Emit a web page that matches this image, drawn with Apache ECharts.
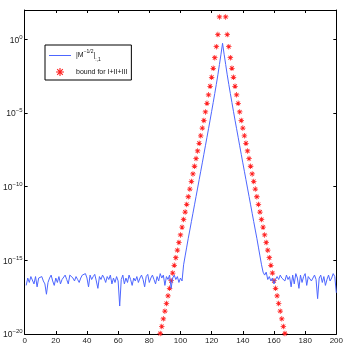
<!DOCTYPE html>
<html><head><meta charset="utf-8">
<script src="https://cdn.jsdelivr.net/npm/echarts@6/dist/echarts.min.js"></script>
<style>html,body{margin:0;padding:0;background:#fff}#c{width:346px;height:346px}</style>
</head><body><div id="c"></div>
<script>
// ---- data (exponents of 10) ----
const xMin = 0, xMax = 200, xStep = 20;
const yTickExps = [-20, -15, -10, -5, 0];
const yMinExp = -20, yMaxExp = 2;

// |M^{-1/2}|_{:,1}, x = 1..200
const blueExp = [
 -16.7,-16.2,-16.5,-16.1,-16.0,-16.6,-16.1,-16.8,-16.2,-16.3,
 -16.1,-16.4,-16.6,-17.3,-16.5,-16.2,-16.0,-16.4,-16.7,-16.2,
 -16.5,-16.1,-16.6,-16.3,-16.4,-16.0,-16.3,-16.6,-16.0,-16.1,
 -16.2,-16.4,-16.1,-16.3,-16.5,-16.2,-16.0,-16.1,-15.9,-16.2,
 -16.8,-16.0,-16.3,-16.1,-15.95,-16.4,-16.9,-16.1,-16.3,-16.0,
 -16.2,-16.5,-16.1,-16.3,-16.0,-16.6,-16.2,-16.5,-16.1,-16.4,
 -18.1,-16.3,-16.0,-16.6,-16.2,-16.5,-16.0,-16.3,-16.7,-16.2,
 -16.4,-16.1,-16.5,-16.2,-16.0,-16.3,-16.8,-16.1,-15.95,-16.5,
 -16.2,-16.0,-16.3,-16.6,-16.1,-16.4,-15.9,-16.2,-16.0,-16.7,
 -16.1,-16.3,-16.0,-16.9,-16.2,-16.0,-16.3,-16.1,-16.5,-16.2,
 -16.4,
 -15.3,-14.7,-14.1,-13.5,-12.94,-12.37,-11.8,-11.23,-10.66,-10.09,
 -9.52,-8.95,-8.38,-7.8,-7.22,-6.64,-6.06,-5.48,-4.88,-4.28,
 -3.67,-3.05,-2.4,-1.7,-1.0,-0.26,
 -1.0,-1.7,-2.4,-3.05,-3.67,-4.28,-4.88,-5.48,-6.06,-6.64,
 -7.22,-7.8,-8.38,-8.95,-9.52,-10.09,-10.66,-11.23,-11.8,-12.37,
 -12.94,-13.5,-14.1,-14.7,-15.3,-15.8,
 -16.0,-15.8,-16.3,-16.1,-16.4,-16.2,-16.6,-16.3,-16.1,-16.3,
 -16.0,-16.2,-16.1,-16.4,-16.0,-16.3,-16.1,-16.8,-16.0,-16.6,
 -15.9,-16.2,-16.9,-16.0,-16.5,-16.1,-15.9,-16.7,-16.1,-16.0,
 -16.4,-16.2,-16.0,-16.3,-17.6,-16.2,-16.0,-16.5,-16.1,-16.7,
 -16.3,-16.0,-16.4,-16.2,-15.9,-16.1,-17.2
];

// bound for I+II+III
const boundLeftX = 87;   // first visible star on the left flank (x = 87..125)
const boundLeftExp = [
 -19.97,-19.49,-18.97,-18.45,-17.93,-17.41,-16.9,-16.38,-15.86,-15.34,
 -14.82,-14.31,-13.79,-13.27,-12.75,-12.23,-11.72,-11.2,-10.68,-10.16,
 -9.64,-9.13,-8.61,-8.09,-7.57,-7.05,-6.54,-6.02,-5.5,-4.92,
 -4.34,-3.76,-3.18,-2.57,-1.96,-1.24,-0.49,0.33,1.53
];
const boundRightX = 129; // x = 129..167
const boundRightExp = [
 1.53,0.33,-0.49,-1.24,-1.96,-2.57,-3.18,-3.76,-4.34,-4.92,
 -5.5,-6.02,-6.54,-7.05,-7.57,-8.09,-8.61,-9.13,-9.64,-10.16,
 -10.68,-11.2,-11.72,-12.23,-12.75,-13.27,-13.79,-14.31,-14.82,-15.34,
 -15.86,-16.38,-16.9,-17.41,-17.93,-18.45,-18.97,-19.49,-19.97
];

const nameBlue = 'M';
const nameBound = 'bound for I+II+III';

// ---- build ----
const FONT = '"Liberation Sans Narrow","Liberation Sans",Arial,sans-serif';
const BLUE = '#4d66ff', RED = '#ff2020';
const blueData = blueExp.map((e, i) => [i + 1, Math.pow(10, e)]);
const boundData = boundLeftExp.map((e, i) => [boundLeftX + i, Math.pow(10, e)])
  .concat(boundRightExp.map((e, i) => [boundRightX + i, Math.pow(10, e)]));

const star = 'path://M-1,-0.14L1,-0.14L1,0.14L-1,0.14Z M-0.14,-1L0.14,-1L0.14,1L-0.14,1Z M-0.6,-0.8L0.8,0.6L0.6,0.8L-0.8,-0.6Z M-0.8,0.6L0.6,-0.8L0.8,-0.6L-0.6,0.8Z';
const lineIcon = 'path://M0,0L22,0L22,1L0,1Z';

function yLab(v) {
  const e = Math.round(Math.log10(v));
  if (yTickExps.indexOf(e) < 0) return '';
  return '{b|10}{s|' + (e < 0 ? '\u2212' + (-e) : e) + '}';
}
const yRich = {
  b: {fontSize: 8.5, fontFamily: FONT, color: '#222', lineHeight: 11, verticalAlign: 'bottom'},
  s: {fontSize: 6, fontFamily: FONT, color: '#222', lineHeight: 11, verticalAlign: 'top'}
};
const axisLine = {show: true, onZero: false, lineStyle: {color: '#000', width: 1}};
const tick = {show: true, inside: true, length: 3, lineStyle: {color: '#000', width: 1}};

const chart = echarts.init(document.getElementById('c'), null, {renderer: 'canvas'});
chart.setOption({
  animation: false,
  backgroundColor: '#fff',
  grid: {left: 19, right: 9, top: 10, bottom: 12, containLabel: false},
  xAxis: [
    {type: 'value', position: 'bottom', min: xMin, max: xMax, interval: xStep,
     axisLine: axisLine, axisTick: tick, splitLine: {show: false},
     axisLabel: {fontSize: 8, fontFamily: FONT, color: '#222', margin: 3}},
    {type: 'value', position: 'top', min: xMin, max: xMax, interval: xStep,
     axisLine: axisLine, axisTick: tick, splitLine: {show: false}, axisLabel: {show: false}}
  ],
  yAxis: [
    {type: 'log', logBase: 10, position: 'left', min: Math.pow(10, yMinExp), max: Math.pow(10, yMaxExp), interval: 5,
     axisLine: axisLine, axisTick: tick, minorTick: {show: false}, splitLine: {show: false},
     axisLabel: {formatter: yLab, rich: yRich, margin: 2, showMaxLabel: false}},
    {type: 'log', logBase: 10, position: 'right', min: Math.pow(10, yMinExp), max: Math.pow(10, yMaxExp), interval: 5,
     axisLine: axisLine, axisTick: tick, splitLine: {show: false}, axisLabel: {show: false}}
  ],
  legend: {
    orient: 'vertical', left: 45, top: 45,
    backgroundColor: '#fff', borderColor: '#000', borderWidth: 1, borderRadius: 0,
    padding: [4, 4, 4, 4], itemWidth: 22, itemHeight: 8, itemGap: 6,
    formatter: function (n) { return n === nameBlue ? '{t|\u007CM}{sup|\u22121/2}{t|\u007C}{sub|:,1}' : '{t|' + n + '}'; },
    textStyle: {fontSize: 7, fontFamily: FONT, color: '#111', rich: {
      t: {fontSize: 7, fontFamily: FONT, color: '#111', lineHeight: 13},
      sup: {fontSize: 5, fontFamily: FONT, color: '#111', lineHeight: 13, verticalAlign: 'top'},
      sub: {fontSize: 5, fontFamily: FONT, color: '#111', lineHeight: 13, verticalAlign: 'bottom'}
    }},
    data: [
      {name: nameBlue, icon: lineIcon, itemStyle: {color: BLUE, borderWidth: 0}},
      {name: nameBound, icon: star, itemStyle: {color: RED, borderWidth: 0}}
    ]
  },
  series: [
    {name: nameBlue, type: 'line', xAxisIndex: 0, yAxisIndex: 0, data: blueData,
     symbol: 'none', showSymbol: false, clip: true, color: BLUE,
     lineStyle: {color: BLUE, width: 1}, itemStyle: {color: BLUE}},
    {name: nameBound, type: 'scatter', xAxisIndex: 0, yAxisIndex: 0, data: boundData,
     symbol: star, symbolSize: 5.5, clip: true, color: RED,
     itemStyle: {color: RED, opacity: 1}}
  ]
});
</script>
</body></html>
